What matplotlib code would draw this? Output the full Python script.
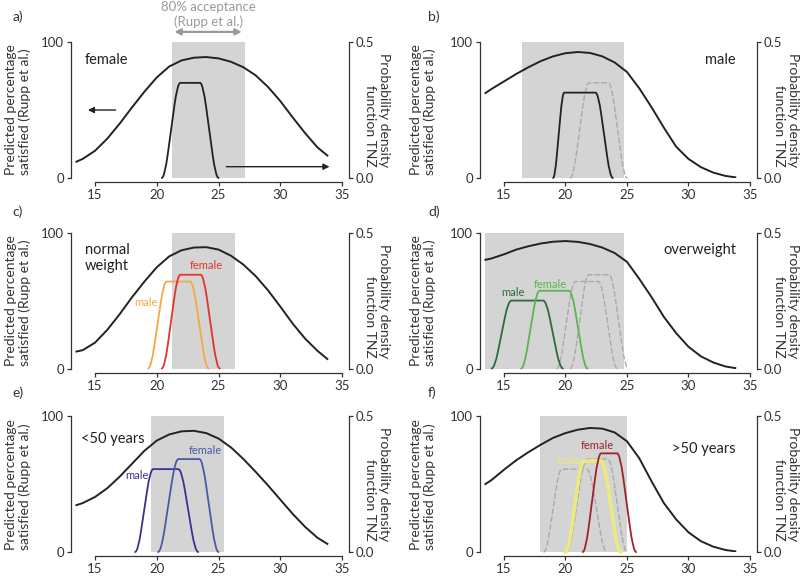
import numpy as np
import matplotlib
matplotlib.use("Agg")
import matplotlib.pyplot as plt
from matplotlib.path import Path
from matplotlib.patches import PathPatch

plt.rcParams['font.family'] = ['Lato', 'DejaVu Sans']

# operative temperature grid (deg C) for the Rupp et al. curves
X = [13.5, 14, 15, 16, 17, 18, 19, 20, 21, 22, 23, 24, 25, 26, 27, 28, 29, 30, 31, 32, 33, 33.8]

# predicted percentage satisfied, per panel
SAT_A = [12, 14, 20, 29, 40, 52, 63.5, 74, 82, 86.5, 88.5, 89, 88, 85.5, 81.5, 75.5, 67, 56.5, 44.5, 33, 22.5, 16.5]
SAT_B = [62.5, 65.5, 71, 76.5, 81.5, 86, 89.5, 91.8, 92.7, 92, 89.5, 85, 78, 66, 52, 37, 23, 14, 8, 4, 1.5, 0.5]
SAT_C = [12.5, 13.5, 19, 28.5, 40, 52.5, 64, 74.5, 82.5, 87, 89, 89.3, 87.5, 83, 76.5, 68, 57.5, 45.5, 33, 22, 13, 7]
SAT_D = [80, 81, 84, 87.5, 90, 92, 93.3, 93.8, 93.2, 91.6, 89, 85, 78.5, 66, 52.5, 38, 26, 16, 9, 4.5, 1.5, 0.3]
SAT_E = [34.5, 36, 40.5, 47, 55.5, 65, 74.5, 82, 86.5, 88.8, 89.2, 87.5, 83.5, 77, 68.5, 59, 49, 38.5, 28, 18.5, 10.5, 6]
SAT_F = [50, 53, 60.5, 67.5, 73.5, 79, 84, 87.5, 90, 91.3, 90.8, 88, 81.5, 69, 52, 36, 24, 14.5, 8, 4, 1.5, 0.5]

# 80% acceptance range (Rupp et al.)
SPAN_A = (21.2, 27.1)
SPAN_B = (16.5, 24.8)
SPAN_C = (21.2, 26.3)
SPAN_D = (13.5, 24.8)
SPAN_E = (19.5, 25.45)
SPAN_F = (17.9, 25.0)

# TNZ pdf trapezoids: left foot, left shoulder, right shoulder, right foot, height
TNZ_FEMALE = (20.4, 21.9, 23.5, 25.0, 0.35)
TNZ_MALE = (19.0, 19.9, 22.45, 23.85, 0.314)
TNZ_NW_MALE = (19.3, 20.8, 22.7, 24.2, 0.32)
TNZ_NW_FEMALE = (20.4, 21.9, 23.55, 25.1, 0.345)
TNZ_OW_MALE = (14.0, 15.6, 18.2, 19.8, 0.25)
TNZ_OW_FEMALE = (16.4, 17.9, 20.3, 21.8, 0.286)
TNZ_Y_MALE = (18.25, 19.7, 21.75, 23.35, 0.305)
TNZ_Y_FEMALE = (20.1, 21.75, 23.45, 25.0, 0.342)
TNZ_O_MALE = (20.0, 21.5, 22.9, 24.5, 0.335)
TNZ_O_FEMALE = (21.4, 22.9, 24.2, 25.75, 0.363)

GREY = "#d4d4d4"
DASH = "#a9a9a9"
INK = "#222222"

panels = [
    dict(tag="a)", sat=SAT_A, span=SPAN_A,
         solid=[(TNZ_FEMALE, INK, 1.3)], dashed=[],
         title="female", title_xy=(14.2, 87), ha="left", marks=[]),
    dict(tag="b)", sat=SAT_B, span=SPAN_B,
         solid=[(TNZ_MALE, INK, 1.3)], dashed=[TNZ_FEMALE],
         title="male", title_xy=(33.85, 87), ha="right", marks=[]),
    dict(tag="c)", sat=SAT_C, span=SPAN_C,
         solid=[(TNZ_NW_MALE, "#f4a846", 1.3), (TNZ_NW_FEMALE, "#e2342b", 1.3)], dashed=[],
         title="normal\nweight", title_xy=(14.2, 81.5), ha="left",
         marks=[("male", 19.1, 48.5, "#f4a846"), ("female", 24.0, 76, "#e2342b")]),
    dict(tag="d)", sat=SAT_D, span=SPAN_D,
         solid=[(TNZ_OW_MALE, "#2e6a3a", 1.3), (TNZ_OW_FEMALE, "#5cb452", 1.3)],
         dashed=[TNZ_NW_MALE, TNZ_NW_FEMALE],
         title="overweight", title_xy=(33.85, 87.5), ha="right",
         marks=[("male", 15.7, 56, "#2e6a3a"), ("female", 18.75, 62, "#5cb452")]),
    dict(tag="e)", sat=SAT_E, span=SPAN_E,
         solid=[(TNZ_Y_MALE, "#3b3290", 1.3), (TNZ_Y_FEMALE, "#4a5aa8", 1.3)], dashed=[],
         title="<50 years", title_xy=(13.9, 83.5), ha="left",
         marks=[("male", 18.4, 56.5, "#3b3290"), ("female", 23.9, 75, "#4a5aa8")]),
    dict(tag="f)", sat=SAT_F, span=SPAN_F,
         solid=[(TNZ_O_MALE, "#ecea7c", 2.6), (TNZ_O_FEMALE, "#9e2329", 1.3)],
         dashed=[TNZ_Y_MALE, TNZ_Y_FEMALE],
         title=">50 years", title_xy=(33.85, 76), ha="right",
         marks=[("male", 20.3, 67.5, "#ecea7c"), ("female", 22.6, 78.5, "#9e2329")]),
]


def tnz(ax, shape, color, lw=1.3, ls="-"):
    # trapezoid with rounded corners, drawn as quadratic bezier path
    x0, x1, x2, x3, h = shape
    w1, w2 = x1 - x0, x3 - x2
    f1 = np.array([x0 + 0.15 * w1, 0.0])
    s1 = np.array([x1 - 0.15 * w1, h])
    s2 = np.array([x2 + 0.15 * w2, h])
    f2 = np.array([x3 - 0.15 * w2, 0.0])
    verts = [(x0, 0), f1, f1 + 0.25 * (s1 - f1), s1 - 0.25 * (s1 - f1), s1, (x1, h),
             (x2, h), s2, s2 + 0.25 * (f2 - s2), f2 - 0.25 * (f2 - s2), f2, (x3, 0)]
    codes = [Path.MOVETO, Path.CURVE3, Path.CURVE3, Path.LINETO, Path.CURVE3, Path.CURVE3,
             Path.LINETO, Path.CURVE3, Path.CURVE3, Path.LINETO, Path.CURVE3, Path.CURVE3]
    ax.add_patch(PathPatch(Path(verts, codes), fill=False, edgecolor=color, lw=lw,
                           ls=ls, clip_on=False, capstyle="round", joinstyle="round"))


fig = plt.figure(figsize=(8, 5.82), dpi=100)
lefts = [0.08875, 0.6]
widths = [0.3475, 0.346]
bottoms = [0.6942, 0.3668, 0.0515]
height = 0.2335
tag_pos = [(0.016, 0.971), (0.535, 0.971), (0.016, 0.636), (0.535, 0.637), (0.016, 0.326), (0.535, 0.326)]
ylab_x = [-0.19, -0.205]
rlab_x = [1.10, 1.105]

for i, p in enumerate(panels):
    col, row = i % 2, i // 2
    ax = fig.add_axes([lefts[col], bottoms[row], widths[col], height])
    ax2 = ax.twinx()

    ax.set_xlim(13.06, 35.55)
    ax.set_ylim(0, 100)
    ax2.set_ylim(0, 0.5)

    ax.axvspan(*p["span"], color=GREY, lw=0, zorder=0)
    ax.plot(X, p["sat"], color=INK, lw=1.4, zorder=3, solid_joinstyle="round")

    for shape in p["dashed"]:
        tnz(ax2, shape, DASH, lw=1.0, ls=(0, (3.5, 2.2)))
    for shape, color, lw in p["solid"]:
        tnz(ax2, shape, color, lw=lw)

    tx, ty = p["title_xy"]
    ax.text(tx, ty, p["title"], ha=p["ha"], va="center", fontsize=10.5, color=INK,
            linespacing=1.2, zorder=5)
    for label, lx, ly, color in p["marks"]:
        ax.text(lx, ly, label, ha="center", va="center", fontsize=8, color=color, zorder=5)

    # spines
    for s in ["top", "right"]:
        ax.spines[s].set_visible(False)
    for s in ["top", "left", "bottom"]:
        ax2.spines[s].set_visible(False)
    ax.spines["left"].set_bounds(0, 100)
    ax.spines["bottom"].set_bounds(15, 35)
    ax.spines["bottom"].set_position(("outward", 3))
    ax2.spines["right"].set_bounds(0, 0.5)
    for sp in [ax.spines["left"], ax.spines["bottom"], ax2.spines["right"]]:
        sp.set_color("#333333")
        sp.set_linewidth(0.9)

    ax.set_yticks([0, 100])
    ax.set_xticks([15, 20, 25, 30, 35])
    ax2.set_yticks([0, 0.5])
    ax2.set_yticklabels(["0.0", "0.5"])
    for a in (ax, ax2):
        a.tick_params(length=3, width=0.9, color="#333333", labelcolor="#333333",
                      labelsize=9.5, pad=2)

    ax.text(ylab_x[col], 0.5, "Predicted percentage\nsatisfied (Rupp et al.)",
            transform=ax.transAxes, rotation=90, ha="center", va="center",
            multialignment="left", fontsize=10, color="#333333", linespacing=1.15)
    ax.text(rlab_x[col], 0.5, "Probability density\nfunction TNZ",
            transform=ax.transAxes, rotation=270, ha="center", va="center",
            multialignment="right", fontsize=10, color="#333333", linespacing=1.15)

    fig.text(tag_pos[i][0], tag_pos[i][1], p["tag"], ha="left", va="center",
             fontsize=10, color="#333333")

    if i == 0:
        # direction arrows and the acceptance range marker
        ax.annotate("", xy=(14.2, 50), xytext=(16.9, 50),
                    arrowprops=dict(arrowstyle="-|>", color=INK, lw=1.0, mutation_scale=9))
        ax.annotate("", xy=(34.2, 8.3), xytext=(25.4, 8.3),
                    arrowprops=dict(arrowstyle="-|>", color=INK, lw=1.0, mutation_scale=9))
        ax.annotate("", xy=(SPAN_A[0], 107.5), xytext=(SPAN_A[1], 107.5),
                    arrowprops=dict(arrowstyle="<|-|>", color="#9a9a9a", lw=1.6,
                                    mutation_scale=9), annotation_clip=False)
        ax.text(sum(SPAN_A) / 2, 120.5, "80% acceptance\n(Rupp et al.)", ha="center",
                va="center", fontsize=9.5, color="#9a9a9a", linespacing=1.2, clip_on=False)

fig.savefig("out.png", dpi=100)
